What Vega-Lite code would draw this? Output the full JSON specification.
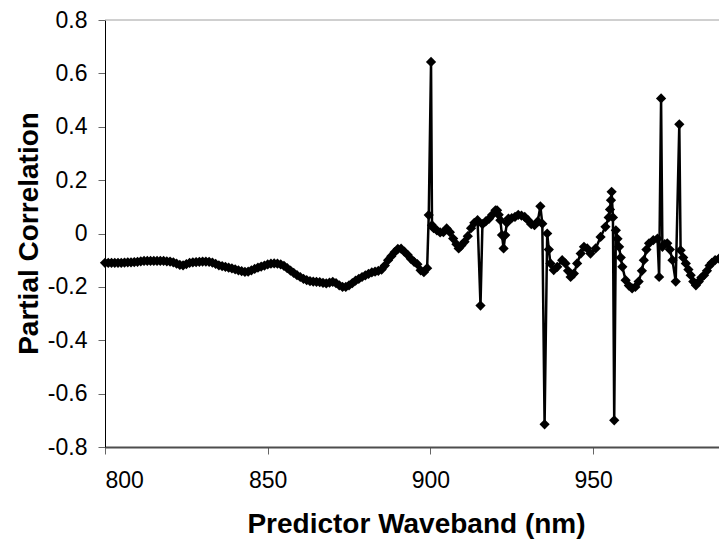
{
  "$schema": "https://vega.github.io/schema/vega-lite/v6.json",
  "width": 614,
  "height": 427,
  "autosize": "none",
  "padding": {"left": 105, "top": 20, "right": 0, "bottom": 92},
  "background": "white",
  "config": {"view": {"stroke": null}, "font": "Liberation Sans"},
  "data": {"values": [
    {"nm":800,"r":-0.11},{"nm":801,"r":-0.11},{"nm":802,"r":-0.11},{"nm":803,"r":-0.11},{"nm":804,"r":-0.11},
    {"nm":805,"r":-0.11},{"nm":806,"r":-0.109},{"nm":807,"r":-0.108},{"nm":808,"r":-0.108},{"nm":809,"r":-0.107},
    {"nm":810,"r":-0.106},{"nm":811,"r":-0.104},{"nm":812,"r":-0.103},{"nm":813,"r":-0.103},{"nm":814,"r":-0.103},
    {"nm":815,"r":-0.103},{"nm":816,"r":-0.103},{"nm":817,"r":-0.103},{"nm":818,"r":-0.103},{"nm":819,"r":-0.104},
    {"nm":820,"r":-0.105},{"nm":821,"r":-0.108},{"nm":822,"r":-0.113},{"nm":823,"r":-0.118},{"nm":824,"r":-0.119},
    {"nm":825,"r":-0.115},{"nm":826,"r":-0.11},{"nm":827,"r":-0.108},{"nm":828,"r":-0.107},{"nm":829,"r":-0.106},
    {"nm":830,"r":-0.105},{"nm":831,"r":-0.105},{"nm":832,"r":-0.106},{"nm":833,"r":-0.109},{"nm":834,"r":-0.114},
    {"nm":835,"r":-0.119},{"nm":836,"r":-0.122},{"nm":837,"r":-0.125},{"nm":838,"r":-0.128},{"nm":839,"r":-0.131},
    {"nm":840,"r":-0.134},{"nm":841,"r":-0.138},{"nm":842,"r":-0.141},{"nm":843,"r":-0.144},{"nm":844,"r":-0.143},
    {"nm":845,"r":-0.138},{"nm":846,"r":-0.133},{"nm":847,"r":-0.128},{"nm":848,"r":-0.124},{"nm":849,"r":-0.12},
    {"nm":850,"r":-0.116},{"nm":851,"r":-0.113},{"nm":852,"r":-0.112},{"nm":853,"r":-0.113},{"nm":854,"r":-0.116},
    {"nm":855,"r":-0.121},{"nm":856,"r":-0.13},{"nm":857,"r":-0.139},{"nm":858,"r":-0.148},{"nm":859,"r":-0.156},
    {"nm":860,"r":-0.163},{"nm":861,"r":-0.17},{"nm":862,"r":-0.175},{"nm":863,"r":-0.178},{"nm":864,"r":-0.18},
    {"nm":865,"r":-0.181},{"nm":866,"r":-0.182},{"nm":867,"r":-0.185},{"nm":868,"r":-0.187},{"nm":869,"r":-0.184},
    {"nm":870,"r":-0.181},{"nm":871,"r":-0.186},{"nm":872,"r":-0.194},{"nm":873,"r":-0.2},{"nm":874,"r":-0.2},
    {"nm":875,"r":-0.194},{"nm":876,"r":-0.186},{"nm":877,"r":-0.177},{"nm":878,"r":-0.17},{"nm":879,"r":-0.163},
    {"nm":880,"r":-0.157},{"nm":881,"r":-0.151},{"nm":882,"r":-0.146},{"nm":883,"r":-0.143},{"nm":884,"r":-0.14},
    {"nm":885,"r":-0.135},{"nm":886,"r":-0.12},{"nm":887,"r":-0.1},{"nm":888,"r":-0.085},{"nm":889,"r":-0.07},
    {"nm":890,"r":-0.058},{"nm":891,"r":-0.057},{"nm":892,"r":-0.068},{"nm":893,"r":-0.08},{"nm":894,"r":-0.095},
    {"nm":895,"r":-0.106},{"nm":896,"r":-0.115},{"nm":897,"r":-0.138},{"nm":898,"r":-0.145},{"nm":899,"r":-0.13},
    {"nm":899.5,"r":0.069},{"nm":900.2,"r":0.643},{"nm":900.5,"r":0.031},{"nm":901,"r":0.02},{"nm":902,"r":0.012},
    {"nm":903,"r":0.004},{"nm":904,"r":0.005},{"nm":905,"r":0.019},{"nm":906,"r":0.005},{"nm":907,"r":-0.019},
    {"nm":908,"r":-0.04},{"nm":908.7,"r":-0.056},{"nm":909.5,"r":-0.045},{"nm":910.5,"r":-0.031},{"nm":911.5,"r":-0.01},
    {"nm":912.5,"r":0.02},{"nm":913.5,"r":0.04},{"nm":914.5,"r":0.05},{"nm":915.4,"r":-0.27},{"nm":916,"r":0.035},
    {"nm":917,"r":0.045},{"nm":918,"r":0.055},{"nm":919,"r":0.07},{"nm":920,"r":0.087},{"nm":920.5,"r":0.087},
    {"nm":921,"r":0.07},{"nm":921.5,"r":0.05},{"nm":922,"r":-0.006},{"nm":922.5,"r":-0.056},{"nm":923,"r":-0.006},
    {"nm":923.5,"r":0.04},{"nm":924,"r":0.056},{"nm":925,"r":0.058},{"nm":926,"r":0.062},{"nm":927,"r":0.07},
    {"nm":928,"r":0.067},{"nm":929,"r":0.062},{"nm":930,"r":0.05},{"nm":931,"r":0.035},{"nm":932,"r":0.031},
    {"nm":933,"r":0.045},{"nm":933.8,"r":0.102},{"nm":934.4,"r":0.037},{"nm":935.1,"r":-0.715},{"nm":935.9,"r":0.0},
    {"nm":936.4,"r":-0.06},{"nm":936.9,"r":-0.112},{"nm":937.9,"r":-0.137},{"nm":939,"r":-0.125},{"nm":940.5,"r":-0.1},
    {"nm":941.5,"r":-0.112},{"nm":942.3,"r":-0.14},{"nm":943.1,"r":-0.163},{"nm":944.1,"r":-0.15},{"nm":945.1,"r":-0.112},
    {"nm":946.2,"r":-0.075},{"nm":947.2,"r":-0.05},{"nm":948.2,"r":-0.056},{"nm":949.2,"r":-0.075},{"nm":950.8,"r":-0.056},
    {"nm":952.3,"r":-0.013},{"nm":953.8,"r":0.025},{"nm":954.8,"r":0.06},{"nm":955.2,"r":0.09},{"nm":955.5,"r":0.125},
    {"nm":955.7,"r":0.156},{"nm":956.1,"r":0.06},{"nm":956.5,"r":-0.7},{"nm":957,"r":0.012},{"nm":957.5,"r":-0.02},
    {"nm":958,"r":-0.05},{"nm":958.5,"r":-0.09},{"nm":959,"r":-0.125},{"nm":960,"r":-0.175},{"nm":961,"r":-0.195},
    {"nm":962,"r":-0.206},{"nm":963,"r":-0.2},{"nm":964,"r":-0.18},{"nm":965,"r":-0.14},{"nm":965.6,"r":-0.1},
    {"nm":966.4,"r":-0.06},{"nm":967.2,"r":-0.037},{"nm":968.5,"r":-0.025},{"nm":969.8,"r":-0.019},{"nm":970.3,"r":-0.163},
    {"nm":970.9,"r":0.506},{"nm":971.3,"r":-0.05},{"nm":972,"r":-0.04},{"nm":972.8,"r":-0.037},{"nm":973.6,"r":-0.06},
    {"nm":974.4,"r":-0.1},{"nm":975.4,"r":-0.18},{"nm":976.5,"r":0.409},{"nm":976.9,"r":-0.063},{"nm":977.7,"r":-0.09},
    {"nm":978.5,"r":-0.112},{"nm":979.3,"r":-0.135},{"nm":980,"r":-0.156},{"nm":980.8,"r":-0.18},{"nm":981.6,"r":-0.194},
    {"nm":982.5,"r":-0.18},{"nm":983.3,"r":-0.165},{"nm":984.1,"r":-0.156},{"nm":985,"r":-0.14},{"nm":985.8,"r":-0.12},
    {"nm":986.5,"r":-0.11},{"nm":987.5,"r":-0.1},{"nm":988.7,"r":-0.094}
  ]},
  "layer": [
    {
      "data": {"values": [{"top": 0.8}]},
      "mark": {"type": "rule", "color": "#a0a0a0", "strokeWidth": 1},
      "encoding": {"y": {"field": "top", "type": "quantitative"}}
    },
    {
      "mark": {
        "type": "line",
        "color": "black",
        "strokeWidth": 2.5,
        "point": {"shape": "diamond", "size": 105, "filled": true, "color": "black", "opacity": 1}
      },
      "encoding": {
        "x": {
          "field": "nm",
          "type": "quantitative",
          "scale": {"domain": [800, 988.7], "nice": false, "zero": false},
          "axis": {
            "values": [800, 850, 900, 950],
            "format": "d",
            "grid": false,
            "tickSize": 7,
            "tickColor": "#666666",
            "domainColor": "#4d4d4d",
            "domainWidth": 2,
            "labelFont": "Liberation Sans",
            "labelFontSize": 23,
            "labelColor": "black",
            "labelPadding": 15,
            "title": "Predictor Waveband (nm)",
            "titleFont": "Liberation Sans",
            "titleFontSize": 28,
            "titleFontWeight": "bold",
            "titleColor": "black",
            "titleX": 311,
            "titleY": 85,
            "titleBaseline": "alphabetic"
          }
        },
        "y": {
          "field": "r",
          "type": "quantitative",
          "scale": {"domain": [-0.8, 0.8], "nice": false, "zero": false},
          "axis": {
            "values": [-0.8, -0.6, -0.4, -0.2, 0, 0.2, 0.4, 0.6, 0.8],
            "labelExpr": "abs(datum.value) < 1e-9 ? '0' : (datum.value < 0 ? '-' + format(-datum.value, '.1f') : format(datum.value, '.1f'))",
            "grid": false,
            "tickSize": 7,
            "tickColor": "#666666",
            "domainColor": "black",
            "domainWidth": 1,
            "labelFont": "Liberation Sans",
            "labelFontSize": 23,
            "labelColor": "black",
            "labelPadding": 11,
            "title": "Partial Correlation",
            "titleFont": "Liberation Sans",
            "titleFontSize": 28,
            "titleFontWeight": "bold",
            "titleColor": "black",
            "titleX": -68,
            "titleY": 213,
            "titleBaseline": "alphabetic"
          }
        }
      }
    }
  ]
}
